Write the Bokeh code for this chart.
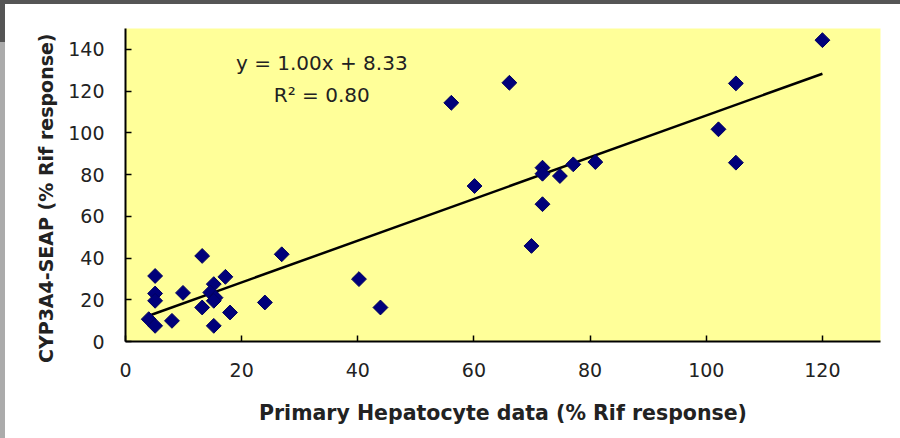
import numpy as np
from bokeh.plotting import figure
from bokeh.models import Range1d, FixedTicker
from bokeh.embed import file_html
from bokeh.resources import INLINE
from bokeh.core.properties import value

# ---- data ----
hepatocyte_pct = [120.0, 105.1, 102.1, 105.1, 80.9, 77.1, 74.8, 71.8, 71.8, 71.8,
                  69.9, 66.1, 56.1, 60.1, 43.9, 40.2, 26.9, 24.0, 17.2, 18.0,
                  13.2, 9.9, 8.0, 5.1, 5.1, 5.1, 4.0, 5.1, 15.2, 14.6,
                  15.5, 15.2, 13.2, 15.2]
seap_pct = [144.4, 123.7, 101.7, 85.7, 86.0, 84.9, 79.3, 83.3, 80.4, 65.8,
            45.8, 124.0, 114.4, 74.5, 16.3, 29.9, 41.8, 18.7, 31.0, 13.9,
            41.0, 23.3, 9.9, 31.4, 23.0, 19.5, 10.7, 7.5, 27.5, 23.5,
            21.0, 19.5, 16.3, 7.5]
x_ticks = [0, 20, 40, 60, 80, 100, 120]
y_ticks = [0, 20, 40, 60, 80, 100, 120, 140]
trend_slope = 1.00
trend_intercept = 8.33
equation_text = "y = 1.00x + 8.33"
r2_text = "R\u00b2 = 0.80"
x_title = "Primary Hepatocyte data (% Rif response)"
y_title = "CYP3A4-SEAP (% Rif response)" + "\u00a0" * 4

FONT = "DejaVu Sans"

p = figure(width=900, height=438,
           x_range=Range1d(0, 130), y_range=Range1d(0, 150),
           output_backend="svg", toolbar_location=None,
           min_border_left=125, min_border_right=20,
           min_border_top=28, min_border_bottom=97)

# window frame strips (grey) painted behind a transparent border area
p.border_fill_color = None
p.styles = {
    "background": ("linear-gradient(#555555,#555555) 0 0 / 100% 4px no-repeat, "
                   "linear-gradient(#555555,#555555) 0 0 / 5px 42px no-repeat, "
                   "linear-gradient(#ababab,#ababab) 0 0 / 5px 100% no-repeat, "
                   "#ffffff"),
}

p.background_fill_color = "#FFFF99"
p.outline_line_color = None
p.xgrid.visible = False
p.ygrid.visible = False

for ax in (p.xaxis[0], p.yaxis[0]):
    ax.axis_line_color = "black"
    ax.axis_line_width = 2
    ax.major_tick_line_color = "black"
    ax.major_tick_line_width = 1.5
    ax.major_tick_in = 6
    ax.major_tick_out = 0
    ax.minor_tick_line_color = None
    ax.major_label_text_font = FONT
    ax.major_label_text_font_size = "19px"
    ax.major_label_text_color = "#222222"
    ax.axis_label_text_font = FONT
    ax.axis_label_text_font_style = "bold"
    ax.axis_label_text_color = "#222222"

p.xaxis[0].ticker = FixedTicker(ticks=x_ticks)
p.yaxis[0].ticker = FixedTicker(ticks=y_ticks)
p.xaxis[0].axis_label = x_title
p.yaxis[0].axis_label = y_title
p.xaxis[0].axis_label_text_font_size = "20.5px"
p.yaxis[0].axis_label_text_font_size = "19px"
p.xaxis[0].major_label_standoff = 21
p.yaxis[0].major_label_standoff = 21
p.xaxis[0].axis_label_standoff = 21
p.yaxis[0].axis_label_standoff = 8

# trend line
tx = [min(hepatocyte_pct), max(hepatocyte_pct)]
ty = [trend_slope * v + trend_intercept for v in tx]
p.line(tx, ty, line_color="black", line_width=2.5)

# points
p.scatter(hepatocyte_pct, seap_pct, marker="square", size=10.5, angle=np.pi / 4,
          fill_color="#00007a", line_color="#000060", line_width=1)

# equation
p.text(x=[33.8], y=[133.4], text=[equation_text], text_align="center",
       text_baseline="middle", text_font=value(FONT), text_font_size="20px",
       text_color="#222222")
p.text(x=[33.8], y=[118.1], text=[r2_text], text_align="center",
       text_baseline="middle", text_font=value(FONT), text_font_size="20px",
       text_color="#222222")

open("out.html", "w").write(file_html(p, INLINE))
